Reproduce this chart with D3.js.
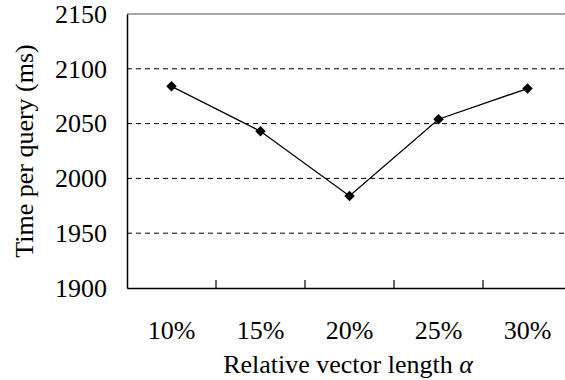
<!DOCTYPE html>
<html>
<head>
<meta charset="utf-8">
<script src="https://cdn.jsdelivr.net/npm/d3@7"></script>
<style>
  body { margin: 0; background: #fff; }
  svg { display: block; font-family: "Liberation Serif", "Times New Roman", serif; }
</style>
</head>
<body>
<svg id="chart"></svg>
<script>
const categories = ["10%", "15%", "20%", "25%", "30%"];
const timePerQuery = [2084, 2043, 1984, 2054, 2082];
const yTicks = [1900, 1950, 2000, 2050, 2100, 2150];

const width = 565;
const height = 380;
const margin = { top: 14, right: -7, bottom: 92, left: 127 };
const fontSize = "26px";

const svg = d3.select("#chart")
    .attr("width", width)
    .attr("height", height);

const x = d3.scaleBand()
    .domain(categories)
    .range([margin.left, width - margin.right])
    .padding(0);

const y = d3.scaleLinear()
    .domain([1900, 2150])
    .range([height - margin.bottom, margin.top]);

// dashed gridlines
svg.append("g")
    .selectAll("line")
    .data(yTicks.filter(d => d > 1900 && d < 2150))
    .join("line")
    .attr("x1", margin.left)
    .attr("x2", width - margin.right)
    .attr("y1", d => y(d))
    .attr("y2", d => y(d))
    .attr("stroke", "#000")
    .attr("stroke-width", 1)
    .attr("stroke-dasharray", "5,4");

// top border
svg.append("line")
    .attr("x1", margin.left)
    .attr("x2", width - margin.right)
    .attr("y1", y(2150))
    .attr("y2", y(2150))
    .attr("stroke", "#888")
    .attr("stroke-width", 1.5);

// y axis
const yAxis = svg.append("g")
    .attr("transform", `translate(${margin.left},0)`)
    .call(d3.axisLeft(y).tickValues(yTicks).tickSize(0).tickPadding(20).tickFormat(d3.format("d")))
    .attr("font-family", "Liberation Serif")
    .attr("font-size", fontSize);
yAxis.select(".domain").attr("stroke", "#000").attr("stroke-width", 1.5);
yAxis.selectAll("text").attr("fill", "#000");

// x axis
const xAxis = svg.append("g")
    .attr("transform", `translate(0,${y(1900)})`)
    .call(d3.axisBottom(x).tickSize(0).tickPadding(33))
    .attr("font-family", "Liberation Serif")
    .attr("font-size", fontSize);
xAxis.select(".domain").attr("stroke", "#000").attr("stroke-width", 1.5);
xAxis.selectAll("text").attr("fill", "#000");

// tick marks between categories, pointing up
svg.append("g")
    .selectAll("line")
    .data(categories.slice(1))
    .join("line")
    .attr("x1", d => x(d))
    .attr("x2", d => x(d))
    .attr("y1", y(1900))
    .attr("y2", y(1900) - 8)
    .attr("stroke", "#000")
    .attr("stroke-width", 1.2);

// line
const line = d3.line()
    .x((d, i) => x(categories[i]) + x.bandwidth() / 2)
    .y(d => y(d));

svg.append("path")
    .datum(timePerQuery)
    .attr("d", line)
    .attr("fill", "none")
    .attr("stroke", "#000")
    .attr("stroke-width", 1.3);

// diamond markers
svg.append("g")
    .selectAll("path")
    .data(timePerQuery)
    .join("path")
    .attr("d", d3.symbol().type(d3.symbolDiamond2).size(70))
    .attr("transform", (d, i) => `translate(${x(categories[i]) + x.bandwidth() / 2},${y(d)})`)
    .attr("fill", "#000");

// axis titles
const xTitle = svg.append("text")
    .attr("x", 348)
    .attr("y", 373)
    .attr("text-anchor", "middle")
    .attr("font-size", fontSize)
    .attr("fill", "#000");
xTitle.append("tspan").text("Relative vector length ");
xTitle.append("tspan").attr("font-style", "italic").text("\u03b1");

svg.append("text")
    .attr("transform", `translate(33,${(y(1900) + y(2150)) / 2}) rotate(-90)`)
    .attr("text-anchor", "middle")
    .attr("font-size", fontSize)
    .attr("fill", "#000")
    .text("Time per query (ms)");
</script>
</body>
</html>
